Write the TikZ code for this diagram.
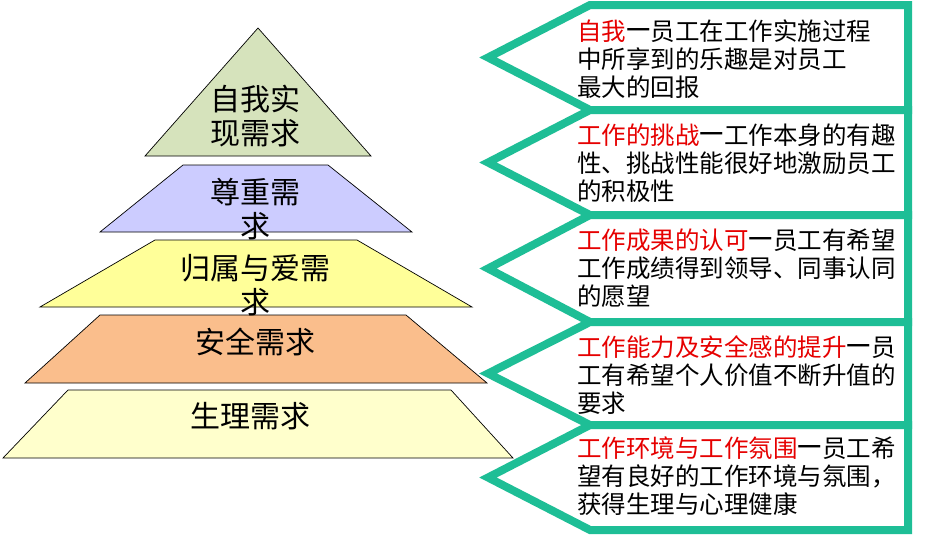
\documentclass[tikz,border=0pt]{standalone}
\usepackage{fontspec}
\usepackage{graphicx}
\newfontfamily\cjk{Noto Sans CJK SC}
\definecolor{teal1}{RGB}{30,190,150}
\definecolor{gr}{RGB}{214,227,188}
\definecolor{pu}{RGB}{204,204,255}
\definecolor{ye}{RGB}{255,255,153}
\definecolor{or}{RGB}{250,190,140}
\definecolor{ly}{RGB}{255,255,204}
\definecolor{rd}{RGB}{230,0,0}
\newcommand{\dsh}{\makebox[1em]{\resizebox{1em}{0.9ex}{—}}}
\begin{document}
\begin{tikzpicture}[x=1pt,y=-1pt,
  lvl/.style={draw=black,line width=0.7pt},
  arrowbox/.style={draw=teal1,line width=8pt,line join=miter,fill=white},
  ptext/.style={font=\cjk\fontsize{30}{34}\selectfont,align=center,inner sep=0},
  btext/.style={font=\cjk\fontsize{24.5}{28}\selectfont,align=left,anchor=north west,inner sep=0}]
\useasboundingbox (0,0) rectangle (926,536);
% pyramid
\path[lvl,fill=gr] (258,28) -- (371,156) -- (145,156) -- cycle;
\path[lvl,fill=pu] (183,165) -- (328,165) -- (412,232) -- (100,232) -- cycle;
\path[lvl,fill=ye] (155,240) -- (357,240) -- (472,307) -- (40,307) -- cycle;
\path[lvl,fill=or] (100,315) -- (406,315) -- (487,383) -- (25,383) -- cycle;
\path[lvl,fill=ly] (68,390) -- (451,390) -- (513,458) -- (3,458) -- cycle;
\node[ptext] (p1) at (255,116) {自我实\\现需求};
\node[ptext] (p2) at (255,209) {尊重需\\求};
\node[ptext] (p3) at (255,285) {归属与爱需\\求};
\node[ptext] (p4) at (255,342) {安全需求};
\node[ptext] (p5) at (250,416) {生理需求};
% arrow boxes
\foreach \t/\b in {5/110,110/215,215/322,322/425,425/530}{
  \path[arrowbox] (590,\t) -- (908,\t) -- (908,\b) -- (590,\b) -- (488,{(\t+\b)/2}) -- cycle;
}
\node[btext] (b1) at (577,20) {\textcolor{rd}{自我}\dsh 员工在工作实施过程\\中所享到的乐趣是对员工\\最大的回报};
\node[btext] (b2) at (577,124) {\textcolor{rd}{工作的挑战}\dsh 工作本身的有趣\\性、挑战性能很好地激励员工\\的积极性};
\node[btext] (b3) at (577,229) {\textcolor{rd}{工作成果的认可}\dsh 员工有希望\\工作成绩得到领导、同事认同\\的愿望};
\node[btext] (b4) at (577,335) {\textcolor{rd}{工作能力及安全感的提升}\dsh 员\\工有希望个人价值不断升值的\\要求};
\node[btext] (b5) at (577,437) {\textcolor{rd}{工作环境与工作氛围}\dsh 员工希\\望有良好的工作环境与氛围，\\获得生理与心理健康};
\end{tikzpicture}
\end{document}
